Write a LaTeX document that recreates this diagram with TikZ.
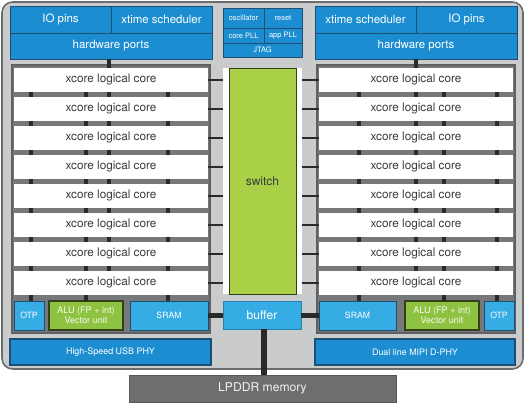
\documentclass[tikz,border=0pt]{standalone}
\usepackage{fontspec}
\setmainfont{TeX Gyre Heros}
\definecolor{chipgray}{HTML}{C9CBCD}
\definecolor{chipedge}{HTML}{6A6C6E}
\definecolor{stackgray}{HTML}{76787A}
\definecolor{stackedge}{HTML}{5E6062}
\definecolor{xblue}{HTML}{1B8DD0}
\definecolor{xlight}{HTML}{35ADE4}
\definecolor{xnavy}{HTML}{1F4E72}
\definecolor{xgreen}{HTML}{A9D047}
\definecolor{xgreentwo}{HTML}{8DC340}
\definecolor{greenedge}{HTML}{33401A}
\definecolor{lpgray}{HTML}{6D6E70}
\definecolor{coretext}{HTML}{3A3A3A}
\definecolor{busblack}{HTML}{2A2A2A}
\begin{document}
\begin{tikzpicture}[x=0.75pt,y=-0.75pt,
  base/.style={anchor=north west, inner sep=0pt, outer sep=0pt, align=center},
  sz/.style 2 args={minimum width=#1*0.75pt, minimum height=#2*0.75pt},
  bluebox/.style={base, fill=xblue, draw=xnavy, line width=0.6pt, text=white, font=\fontsize{8.6}{9}\selectfont},
  tinyblue/.style={base, fill=xblue, draw=xnavy, line width=0.5pt, text=white, font=\fontsize{5.6}{6}\selectfont},
  phybox/.style={base, fill=xblue, draw=xnavy, line width=0.8pt, text=white, font=\fontsize{6.7}{7}\selectfont},
  lightbox/.style={base, fill=xlight, draw=xnavy, line width=0.6pt, text=white, font=\fontsize{6.5}{7}\selectfont},
  alubox/.style={base, fill=xgreentwo, draw=greenedge, line width=0.9pt, text=white!92!xgreentwo, font=\fontsize{6.8}{7.6}\selectfont},
  corebox/.style={base, fill=white, text=coretext, font=\fontsize{8.8}{9}\selectfont},
  stack/.style={base, fill=stackgray, draw=stackedge, line width=0.8pt},
  vbus/.style={draw=busblack, line width=3pt},
  hbus/.style={draw=busblack, line width=1.1pt},
  fatbus/.style={draw=busblack, line width=3.8pt},
]
\useasboundingbox (0,0) rectangle (525,406);
% chip
\node[base, sz={521}{367}, fill=chipgray, draw=chipedge, line width=1.2pt, rounded corners=8pt] (chip) at (2,2) {};
% top left
\node[bluebox, sz={101}{27}] (ioL) at (10,6) {IO pins};
\node[bluebox, sz={101}{27}] (xtL) at (111,6) {xtime scheduler};
\node[bluebox, sz={202}{26}] (hpL) at (10,33) {hardware ports};
% top centre
\node[tinyblue, sz={41}{20}] (osc) at (223,8) {oscillator};
\node[tinyblue, sz={38}{20}] (rst) at (264,8) {reset};
\node[tinyblue, sz={41}{15}] (cpll) at (223,28) {core PLL};
\node[tinyblue, sz={38}{15}] (apll) at (264,28) {app PLL};
\node[tinyblue, sz={79}{14}] (jtag) at (223,43) {JTAG};
% top right
\node[bluebox, sz={101}{27}] (xtR) at (315,6) {xtime scheduler};
\node[bluebox, sz={101}{27}] (ioR) at (416,6) {IO pins};
\node[bluebox, sz={202}{26}] (hpR) at (315,33) {hardware ports};
% stacks
\node[stack, sz={198}{268}] (stL) at (12,65) {};
\node[stack, sz={198}{268}] (stR) at (317,65) {};
% switch
\node[base, sz={79}{226}, fill=white] (swW) at (223,68) {};
\node[base, sz={67}{226}, fill=xgreen, draw=greenedge, line width=0.5pt, text=coretext, font=\fontsize{9}{9}\selectfont] (sw) at (229,68) {switch};
% cores
\foreach \i in {1,...,8}{
  \node[corebox, sz={194}{24}] (cL\i) at (14,{68+29*(\i-1)}) {xcore logical core};
  \node[corebox, sz={194}{24}] (cR\i) at (319,{68+29*(\i-1)}) {xcore logical core};
  \draw[hbus] (cL\i.east) -- (cL\i.east -| swW.west);
  \draw[hbus] (cR\i.west) -- (cR\i.west -| swW.east);
}
% bottom row of stacks
\node[lightbox, sz={30}{29}] (otpL) at (14,301) {OTP};
\node[alubox, sz={74}{29}] (aluL) at (49,301) {ALU (FP + int)\\Vector unit};
\node[lightbox, sz={78}{29}] (sramL) at (130,301) {SRAM};
\node[lightbox, sz={77}{29}] (sramR) at (319,301) {SRAM};
\node[alubox, sz={74}{29}] (aluR) at (405,301) {ALU (FP + int)\\Vector unit};
\node[lightbox, sz={30}{29}] (otpR) at (484,301) {OTP};
% vertical links between cores
\foreach \i [count=\j from 2] in {1,...,7}{
  \foreach \X in {31,86,109,168}{
    \draw[vbus] (cL\i.south -| \X,0) -- (cL\j.north -| \X,0);
  }
  \foreach \X in {359,416,444,497}{
    \draw[vbus] (cR\i.south -| \X,0) -- (cR\j.north -| \X,0);
  }
}
\draw[vbus] (hpL.south -| 109,0) -- (cL1.north -| 109,0);
\draw[vbus] (hpR.south -| 416,0) -- (cR1.north -| 416,0);
\draw[vbus] (cL8.south -| 31,0) -- (otpL.north -| 31,0);
\draw[vbus] (cL8.south -| 86,0) -- (aluL.north -| 86,0);
\draw[vbus] (cL8.south -| 168,0) -- (sramL.north -| 168,0);
\draw[vbus] (cR8.south -| 359,0) -- (sramR.north -| 359,0);
\draw[vbus] (cR8.south -| 444,0) -- (aluR.north -| 444,0);
\draw[vbus] (cR8.south -| 497,0) -- (otpR.north -| 497,0);
% buffer
\node[base, sz={78}{28}, fill=xlight, draw=xlight!75!black, line width=0.4pt, text=white, font=\fontsize{9.1}{9}\selectfont] (buf) at (223,301) {buffer};
\draw[fatbus] (sramL.east) -- (sramL.east -| buf.west);
\draw[fatbus] (sramR.west) -- (sramR.west -| buf.east);
% PHYs
\node[phybox, sz={201}{26}] (usb) at (10,339) {High-Speed USB PHY};
\node[phybox, sz={200}{26}] (mipi) at (315,339) {Dual line MIPI D-PHY};
% memory
\node[base, sz={267}{27}, fill=lpgray, draw=lpgray!80!black, line width=0.6pt, text=white!90!lpgray, font=\fontsize{9.1}{9}\selectfont] (lp) at (129,375) {LPDDR memory};
\draw[draw=busblack, line width=4.5pt] (buf.south -| 264,0) -- (lp.north -| 264,0);
\end{tikzpicture}
\end{document}
